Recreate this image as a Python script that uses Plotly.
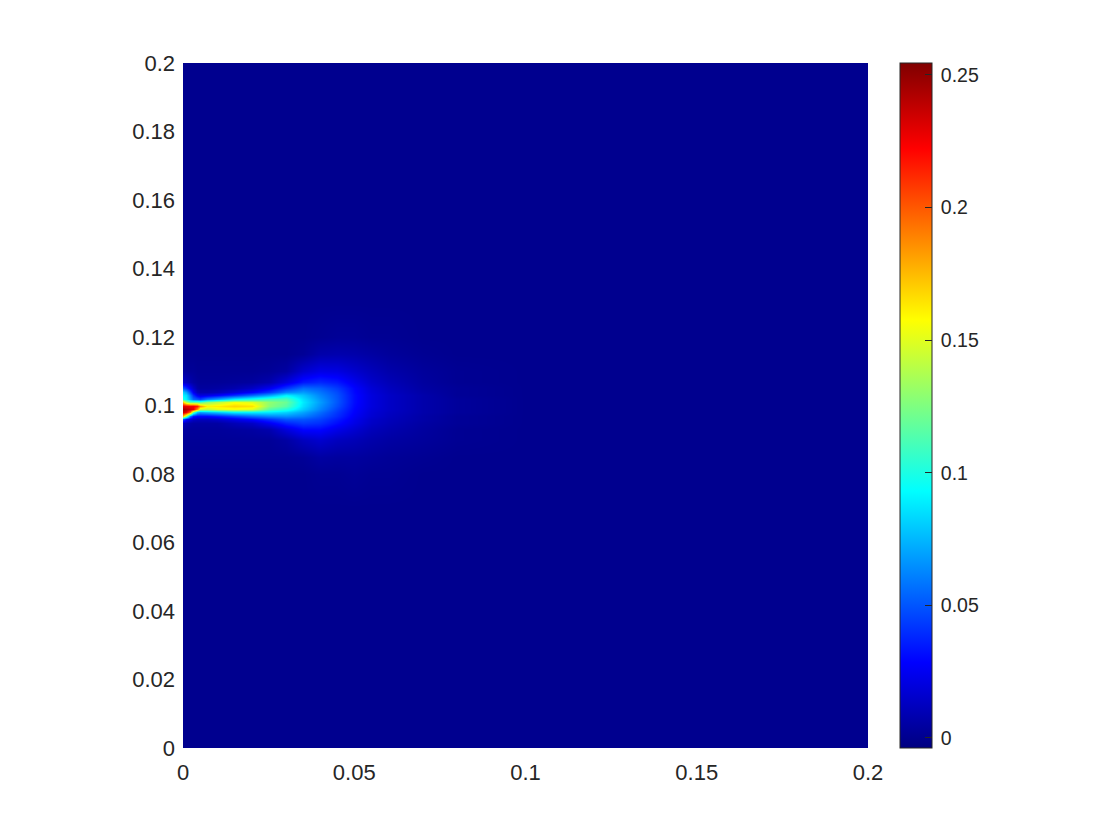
import numpy as np
import plotly.graph_objects as go

x_nodes = [0, .001, .002, .003, .004, .005, .007, .01, .015, .02, .025, .03,
           .035, .04, .045, .05, .055, .06, .07, .08, .1, .2]
y_nodes = [0, .07, .08, .085, .09, .093, .095, .096, .097, .098, .099, .1,
           .101, .102, .103, .104, .105, .107, .11, .115, .12, .13, .2]

# one column of values per x station, bottom to top
col_000 = [0, 0, 0, .001, .002, .004, .012, .05, .17, .235, .248, .23, .17, .10, .09, .08, .05, .015, .004, 0, 0, 0, 0]
col_001 = [0, 0, 0, .001, .002, .004, .008, .03, .13, .225, .242, .228, .14, .09, .085, .07, .04, .012, .003, 0, 0, 0, 0]
col_002 = [0, 0, 0, .001, .002, .003, .006, .02, .06, .19, .235, .225, .12, .07, .06, .045, .025, .008, .002, 0, 0, 0, 0]
col_003 = [0, 0, 0, .001, .002, .003, .005, .014, .035, .12, .228, .225, .12, .055, .04, .025, .015, .005, .002, 0, 0, 0, 0]
col_004 = [0, 0, 0, .001, .002, .003, .005, .012, .03, .08, .185, .215, .12, .05, .025, .012, .006, .003, .001, 0, 0, 0, 0]
col_005 = [0, 0, 0, .001, .002, .003, .005, .012, .03, .07, .145, .185, .115, .045, .02, .008, .004, .002, .001, 0, 0, 0, 0]
col_007 = [0, 0, 0, .001, .002, .003, .005, .012, .03, .075, .14, .16, .13, .06, .022, .008, .004, .002, .001, 0, 0, 0, 0]
col_010 = [0, 0, 0, .001, .002, .003, .005, .015, .035, .08, .15, .162, .14, .07, .028, .01, .005, .002, .001, 0, 0, 0, 0]
col_015 = [0, 0, 0, .001, .002, .004, .01, .022, .045, .09, .155, .168, .155, .09, .04, .018, .008, .003, .001, 0, 0, 0, 0]
col_020 = [0, 0, 0, .001, .002, .005, .014, .03, .055, .09, .15, .165, .15, .10, .055, .028, .014, .004, .001, 0, 0, 0, 0]
col_025 = [0, 0, 0, .001, .002, .008, .025, .04, .062, .088, .115, .128, .13, .11, .07, .042, .025, .008, .002, 0, 0, 0, 0]
col_030 = [0, 0, 0, .001, .005, .02, .037, .05, .065, .082, .102, .115, .12, .112, .09, .062, .042, .02, .005, 0, 0, 0, 0]
col_035 = [0, 0, 0, .002, .012, .03, .043, .05, .06, .07, .08, .085, .088, .085, .078, .068, .056, .034, .016, .002, 0, 0, 0]
col_040 = [0, 0, .001, .005, .016, .03, .04, .045, .05, .056, .062, .065, .068, .066, .062, .058, .052, .038, .022, .007, .001, 0, 0]
col_045 = [0, 0, .001, .004, .012, .023, .031, .035, .039, .042, .045, .048, .05, .05, .049, .047, .043, .034, .021, .008, .002, 0, 0]
col_050 = [0, 0, .002, .004, .01, .017, .022, .024, .026, .028, .029, .03, .031, .031, .031, .03, .029, .024, .016, .007, .002, 0, 0]
col_055 = [0, 0, .001, .003, .007, .011, .014, .015, .017, .018, .019, .02, .02, .02, .02, .019, .018, .015, .011, .005, .001, 0, 0]
col_060 = [0, 0, .001, .002, .005, .008, .01, .011, .012, .013, .014, .014, .014, .014, .014, .013, .012, .01, .007, .003, .001, 0, 0]
col_070 = [0, 0, 0, .001, .003, .004, .005, .006, .006, .007, .007, .007, .007, .007, .007, .006, .005, .004, .003, .001, 0, 0, 0]
col_080 = [0, 0, 0, 0, .001, .001, .002, .002, .002, .003, .003, .003, .003, .003, .002, .002, .002, .001, .001, 0, 0, 0, 0]
col_100 = [0] * 23
col_200 = [0] * 23

columns = [col_000, col_001, col_002, col_003, col_004, col_005, col_007,
           col_010, col_015, col_020, col_025, col_030, col_035, col_040,
           col_045, col_050, col_055, col_060, col_070, col_080, col_100,
           col_200]

x_ticks = [0, 0.05, 0.1, 0.15, 0.2]
x_labels = ["0", "0.05", "0.1", "0.15", "0.2"]
y_ticks = [0, 0.02, 0.04, 0.06, 0.08, 0.1, 0.12, 0.14, 0.16, 0.18, 0.2]
y_labels = ["0", "0.02", "0.04", "0.06", "0.08", "0.1", "0.12", "0.14",
            "0.16", "0.18", "0.2"]
cbar_ticks = [0, 0.05, 0.1, 0.15, 0.2, 0.25]
cbar_labels = ["\u20090", "\u20090.05", "\u20090.1", "\u20090.15", "\u20090.2", "\u20090.25"]
z_min = -0.0038
z_max = 0.2545

jet = [
    [0, "rgb(0,0,128)"],
    [0.125, "rgb(0,0,255)"],
    [0.375, "rgb(0,255,255)"],
    [0.625, "rgb(255,255,0)"],
    [0.875, "rgb(255,0,0)"],
    [1, "rgb(128,0,0)"],
]

WIDTH, HEIGHT = 1120, 840
TEXT = "#262626"
FONT = "Liberation Sans"

fig = go.Figure(
    data=go.Heatmap(
        x=x_nodes,
        y=y_nodes,
        z=np.array(columns).T,
        zmin=z_min,
        zmax=z_max,
        zsmooth="best",
        colorscale=jet,
        colorbar=dict(
            x=(900 - 183) / 685,
            xanchor="left",
            xpad=0,
            y=1,
            yanchor="top",
            ypad=0,
            len=1,
            lenmode="fraction",
            thickness=32,
            thicknessmode="pixels",
            outlinecolor=TEXT,
            outlinewidth=1,
            tickmode="array",
            tickvals=cbar_ticks,
            ticktext=cbar_labels,
            ticks="inside",
            ticklen=7,
            tickwidth=1,
            tickcolor=TEXT,
            tickfont=dict(family=FONT, size=19.5, color=TEXT),
        ),
    )
)

# the page adds 8px round the figure, so margins are 8 less than the picture
fig.update_layout(
    width=WIDTH,
    height=HEIGHT,
    autosize=False,
    margin=dict(l=175, r=260, t=55, b=100, autoexpand=False),
    paper_bgcolor="white",
    plot_bgcolor="white",
    xaxis=dict(
        range=[0, 0.2],
        tickmode="array",
        tickvals=x_ticks,
        ticktext=x_labels,
        ticks="",
        ticklabelstandoff=9,
        showgrid=False,
        zeroline=False,
        showline=False,
        tickfont=dict(family=FONT, size=22, color=TEXT),
    ),
    yaxis=dict(
        range=[0, 0.2],
        tickmode="array",
        tickvals=y_ticks,
        ticktext=y_labels,
        ticks="",
        ticklabelstandoff=7,
        showgrid=False,
        zeroline=False,
        showline=False,
        tickfont=dict(family=FONT, size=22, color=TEXT),
    ),
)

fig.write_html("out.html")
